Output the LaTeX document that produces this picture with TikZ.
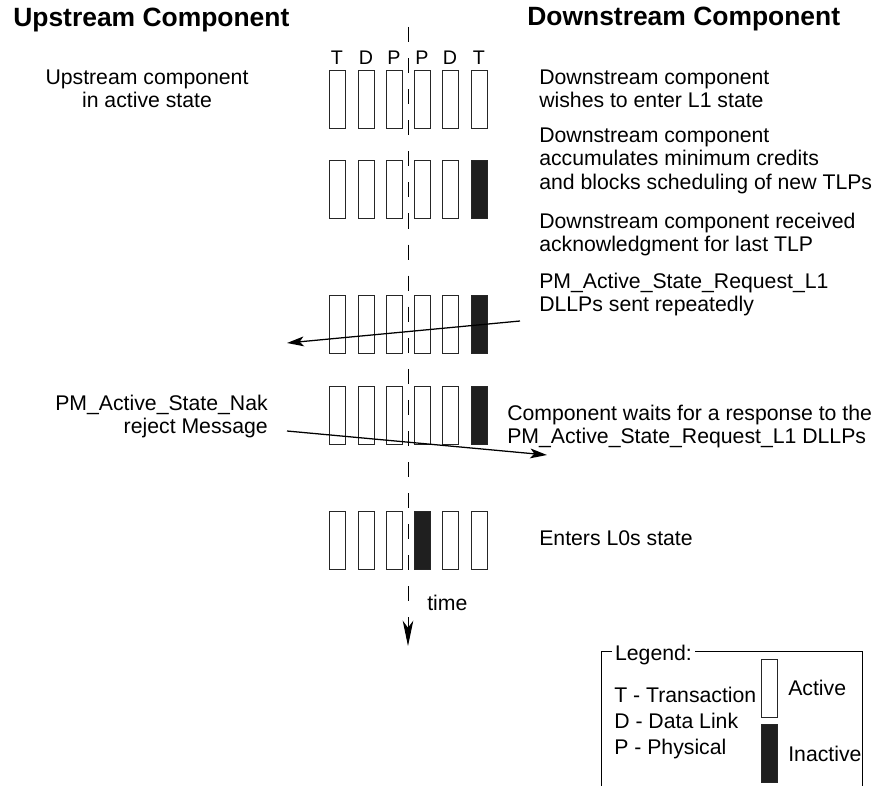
\documentclass[tikz,border=0pt]{standalone}
\usepackage{fontspec}
\setmainfont{Liberation Sans}
\usetikzlibrary{arrows.meta, positioning}

\tikzset{
  lane/.style={draw=black!85, line width=0.6pt, fill=white, inner sep=0pt,
    minimum width=11.4pt, minimum height=41.3pt, anchor=north},
  note/.style={font=\fontsize{15.1}{16.4}\selectfont, inner sep=0pt},
  header/.style={font=\fontsize{18.8}{20}\selectfont\bfseries, inner sep=0pt, anchor=north west},
  sig/.style={line width=0.9pt, -{Stealth[length=12pt, width=7pt, inset=3pt]}}
}

\begin{document}
\begin{tikzpicture}[x=0.025cm, y=-0.025cm]
  \useasboundingbox (0,0) rectangle (873,786);
  % headings
  \node[header] (uphead) at (13,8) {Upstream Component};
  \node[header] (downhead) at (527,7) {Downstream Component};
  % time axis
  \coordinate (ttop) at (408,27);
  \coordinate (tend) at (408,646);
  \draw[line width=0.7pt, dash pattern=on 10.7pt off 11.4pt,
    -{Stealth[length=18pt, width=7.5pt, inset=5pt]}] (ttop) -- (tend);
  \node[note, anchor=west] (time) at (427,603) {time};
  % layer labels
  \foreach \col/\cx/\lbl in {1/337/T, 2/366/D, 3/394/P, 4/422/P, 5/450/D, 6/479/T}
    \node[note, anchor=north, font=\fontsize{14}{16}\selectfont] (lbl\col) at (\cx,51) {\lbl};
  % lanes per step (\off = inactive column)
  \foreach \row/\top/\off in {1/70/0, 2/160/6, 3/295/6, 4/386/6, 5/511/4} {
    \foreach \col/\cx in {1/337, 2/366, 3/394, 4/422, 5/450, 6/479} {
      \ifnum\col=\off \def\shade{black!88}\else \def\shade{white}\fi
      \node[lane, fill=\shade] (b\row\col) at (\cx,\top) {};
    }
  }
  % left notes
  \node[note, anchor=north, align=center] (upact) at (147,70)
    {Upstream component\\in active state};
  \node[note, anchor=north east, align=right] (nak) at (268,395)
    {PM\_Active\_State\_Nak\\reject Message};
  % right notes
  \node[note, anchor=north west, align=left] (wish) at (539,70)
    {Downstream component\\wishes to enter L1 state};
  \node[note, anchor=north west, align=left] (accum) at (539,128)
    {Downstream component\\accumulates minimum credits\\and blocks scheduling of new TLPs};
  \node[note, anchor=north west, align=left] (ack) at (539,213)
    {Downstream component received\\acknowledgment for last TLP};
  \node[note, anchor=north west, align=left] (req) at (539,273)
    {PM\_Active\_State\_Request\_L1\\DLLPs sent repeatedly};
  \node[note, anchor=north west, align=left] (wait) at (507,405)
    {Component waits for a response to the\\PM\_Active\_State\_Request\_L1 DLLPs};
  \node[note, anchor=north west] (enter) at (539,530) {Enters L0s state};
  % messages
  \coordinate (reqs) at (520,321);
  \coordinate (reqe) at (287,343);
  \draw[sig] (reqs) -- (reqe);
  \coordinate (naks) at (287,431);
  \coordinate (nake) at (547,455);
  \draw[sig] (naks) -- (nake);
  % legend
  \draw[line width=0.6pt] (601,786) -- (601,651) -- (862,651) -- (862,786);
  \node[note, anchor=north west, fill=white, inner xsep=2pt] (lgtitle) at (612,645) {Legend:};
  \node[note, anchor=north west, align=left, font=\fontsize{15.1}{18.5}\selectfont] (lgkeys) at (614,687)
    {T - Transaction\\D - Data Link\\P - Physical};
  \node[lane] (lgact) at (769.5,659) {};
  \node[lane, fill=black!88] (lgin) at (769.5,724) {};
  \node[note, anchor=north west] (lgacttxt) at (788,680) {Active};
  \node[note, anchor=north west] (lgintxt) at (788,746) {Inactive};
\end{tikzpicture}
\end{document}
